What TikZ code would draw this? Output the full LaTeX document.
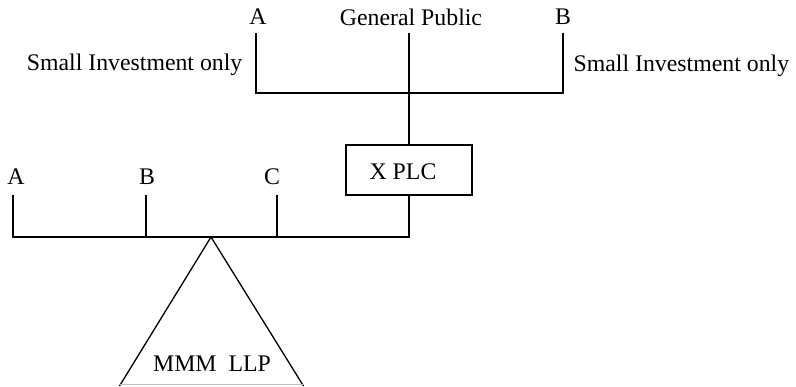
\documentclass[tikz,border=0pt]{standalone}
\usepackage{fontspec}
\setmainfont{Liberation Serif}
\begin{document}
\begin{tikzpicture}[x=1pt,y=-1pt,line width=1.3pt,
  lbl/.style={font=\fontsize{23.8}{28}\selectfont,inner sep=0pt},
  boxed/.style={draw,line width=1.3pt,minimum width=126pt,minimum height=50pt,inner sep=0pt}]
\useasboundingbox (0,0) rectangle (796,386);
% top group
\node[lbl] (tA) at (258,17) {A};
\node[lbl] (tGP) at (411,17) {General Public};
\node[lbl] (tB) at (563,17) {B};
\node[lbl,anchor=east] (sl) at (243,65) {Small Investment only};
\node[lbl,anchor=west] (sr) at (573,66) {Small Investment only};
\coordinate (a1) at (256,33);
\coordinate (a2) at (256,93);
\coordinate (b1) at (563,33);
\coordinate (b2) at (563,93);
\coordinate (g1) at (409,33);
\draw (a1) -- (a2) -- (b2) -- (b1);
% X PLC
\node[boxed] (xplc) at (409,170) {};
\node[lbl] (xt) at (403,172) {X PLC};
\draw (g1) -- (xplc.north);
% bottom bar
\coordinate (m4) at (409,237);
\coordinate (m0) at (13,237);
\coordinate (mB) at (146,237);
\coordinate (mC) at (277,237);
\coordinate (tkA) at (13,195);
\coordinate (tkB) at (146,195);
\coordinate (tkC) at (277,195);
\draw (xplc.south) -- (m4) -- (m0) -- (tkA);
\draw (mB) -- (tkB);
\draw (mC) -- (tkC);
\node[lbl] (lA) at (16,177) {A};
\node[lbl] (lB) at (147,177) {B};
\node[lbl] (lC) at (272,177) {C};
% triangle
\coordinate (apex) at (211,237);
\coordinate (bl) at (119.5,386);
\coordinate (br) at (303.5,386);
\coordinate (bl2) at (120,384.5);
\coordinate (br2) at (303,384.5);
\draw[line join=miter] (bl) -- (apex) -- (br);
\draw[black!25,line width=1pt] (bl2) -- (br2);
\node[lbl] (mmm) at (212,364) {MMM\hspace{0.5em}LLP};
\end{tikzpicture}
\end{document}
